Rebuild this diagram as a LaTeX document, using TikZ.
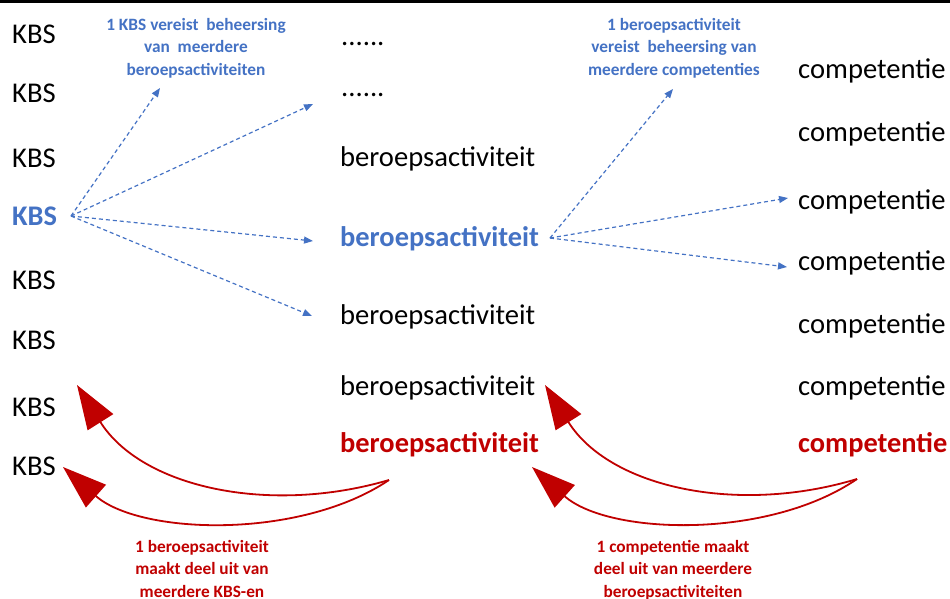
\documentclass[tikz,border=0pt]{standalone}
\usepackage{fontspec}
\setmainfont{Carlito}
\usetikzlibrary{arrows.meta}
\definecolor{blu}{HTML}{4472C4}
\definecolor{rd}{HTML}{C00000}
\begin{document}
\begin{tikzpicture}[x=1pt,y=-1pt,
  item/.style={anchor=mid west, inner sep=0pt, font=\fontsize{28.6}{34}\selectfont},
  itemb/.style={anchor=mid west, inner sep=0pt, font=\fontsize{28.4}{34}\selectfont\bfseries},
  bluehl/.style={itemb, text=blu},
  redhl/.style={itemb, text=rd},
  note/.style={anchor=north, inner sep=0pt, align=center, font=\fontsize{17.3}{22.5}\selectfont\bfseries},
  bluearrow/.style={blu, line width=1.2pt, dash pattern=on 4pt off 3pt, -{Triangle[length=9pt,width=7pt]}},
  redarrow/.style={rd, line width=1.8pt, -{Triangle[length=44pt,width=30pt]}}
]
\useasboundingbox (0,0) rectangle (950,598);
\fill[black] (0,0) rectangle (950,2.6);

% left column
\node[item]   (k1) at (12,41)  {KBS};
\node[item]   (k2) at (12,100) {KBS};
\node[item]   (k3) at (12,165) {KBS};
\node[bluehl] (k4) at (12,223) {KBS};
\node[item]   (k5) at (12,287) {KBS};
\node[item]   (k6) at (12,347) {KBS};
\node[item]   (k7) at (12,414) {KBS};
\node[item]   (k8) at (12,473) {KBS};

% middle column
\node[item]   (b1) at (341,43.5) {......};
\node[item]   (b2) at (341,94.5) {......};
\node[item]   (b3) at (340,164)  {beroepsactiviteit};
\node[bluehl] (b4) at (340,244)  {beroepsactiviteit};
\node[item]   (b5) at (340,322)  {beroepsactiviteit};
\node[item]   (b6) at (340,393)  {beroepsactiviteit};
\node[redhl]  (b7) at (340,450)  {beroepsactiviteit};

% right column
\node[item]  (c1) at (798,76)  {competentie};
\node[item]  (c2) at (798,139) {competentie};
\node[item]  (c3) at (798,207) {competentie};
\node[item]  (c4) at (798,268) {competentie};
\node[item]  (c5) at (798,331) {competentie};
\node[item]  (c6) at (798,393) {competentie};
\node[redhl] (c7) at (798,450) {competentie};

% notes
\node[note, text=blu] (n1) at (196,18) {1 KBS vereist~~beheersing\\van~~meerdere\\beroepsactiviteiten};
\node[note, text=blu] (n2) at (674,18) {1 beroepsactiviteit\\vereist~~beheersing van\\meerdere competenties};
\node[note, text=rd]  (n3) at (202,540) {1 beroepsactiviteit\\maakt deel uit van\\meerdere KBS-en};
\node[note, text=rd]  (n4) at (673,540) {1 competentie maakt\\deel uit van meerdere\\beroepsactiviteiten};

% blue connector end points
\coordinate (ks) at (71,216);
\coordinate (ka) at (160,88);
\coordinate (kb) at (313,104);
\coordinate (kc) at (313,241);
\coordinate (kd) at (312,316);
\coordinate (bs) at (550,238);
\coordinate (ba) at (673,89);
\coordinate (bb) at (788,198);
\coordinate (bc) at (787,267);

\draw[bluearrow] (ks) -- (ka);
\draw[bluearrow] (ks) -- (kb);
\draw[bluearrow] (ks) -- (kc);
\draw[bluearrow] (ks) -- (kd);
\draw[bluearrow] (bs) -- (ba);
\draw[bluearrow] (bs) -- (bb);
\draw[bluearrow] (bs) -- (bc);

% red curved arrows
\coordinate (rs1) at (389,480);
\coordinate (rt1) at (77,385);
\coordinate (rt2) at (63,467);
\coordinate (rs2) at (857,479);
\coordinate (rt3) at (545,385);
\coordinate (rt4) at (532,467);

\draw[redarrow] (rs1) .. controls (270,515) and (142,488) .. (rt1);
\draw[redarrow] (rs1) .. controls (300,540) and (140,535) .. (rt2);
\draw[redarrow] (rs2) .. controls (738,515) and (610,488) .. (rt3);
\draw[redarrow] (rs2) .. controls (768,540) and (608,535) .. (rt4);
\end{tikzpicture}
\end{document}
